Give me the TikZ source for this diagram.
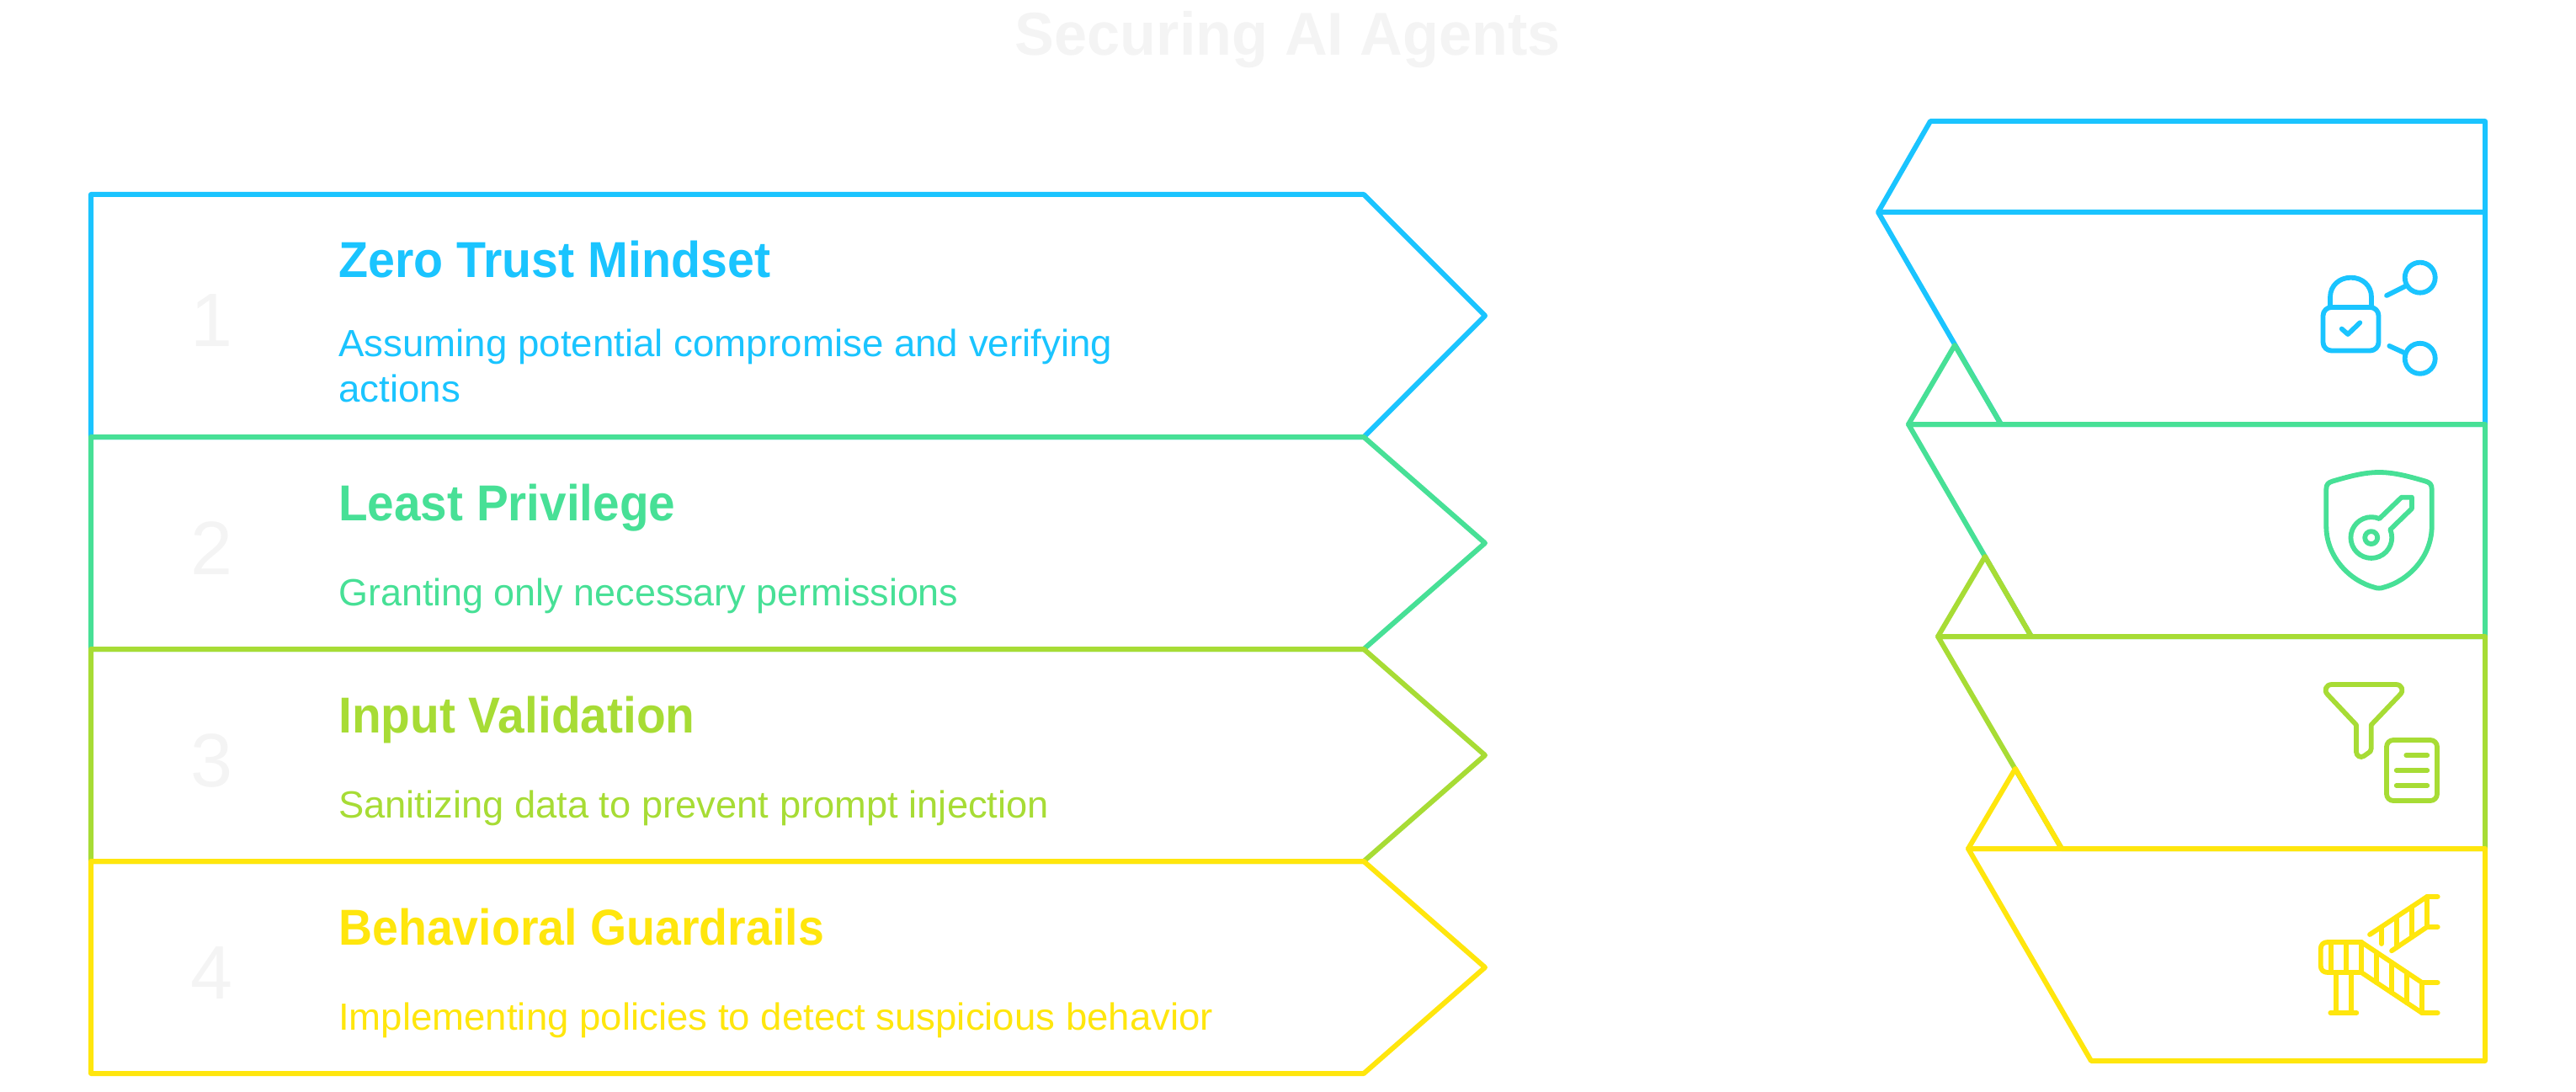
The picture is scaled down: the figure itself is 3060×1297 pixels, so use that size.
\documentclass[tikz,border=0pt]{standalone}
\usepackage{fontspec}
\setmainfont{Liberation Sans}
\definecolor{blueline}{HTML}{1AC4FF}
\definecolor{greenline}{HTML}{47E096}
\definecolor{limeline}{HTML}{A7DC35}
\definecolor{yellowline}{HTML}{FFE60D}
\definecolor{palegrey}{HTML}{F4F4F4}
\tikzset{
  band/.style={line width=6pt,line join=round},
  glyph/.style={line width=5.8pt,line join=round,line cap=round},
  headtext/.style={anchor=base,inner sep=0pt,text=palegrey,font=\fontsize{72}{72}\selectfont\bfseries\addfontfeature{FakeStretch=0.976}},
  numtext/.style={anchor=base,inner sep=0pt,text=palegrey,font=\fontsize{90}{90}\selectfont},
  titletext/.style={anchor=base west,inner sep=0pt,font=\fontsize{60}{60}\selectfont\bfseries\addfontfeature{FakeStretch=#1}},
  desctext/.style={anchor=base west,inner sep=0pt,align=left,font=\fontsize{45}{54}\selectfont\addfontfeature{FakeStretch=#1}}
}
\begin{document}
\begin{tikzpicture}[x=1pt,y=-1pt]
  \useasboundingbox (0,0) rectangle (3060,1297);
  \node[headtext] (head) at (1530,66) {Securing AI Agents};

  % left bands
  \draw[band,blueline] (108,231) -- (1620,231) -- (1764,375) -- (1620,519) -- (108,519) -- cycle;
  \draw[band,greenline] (108,519) -- (1620,519) -- (1764,645) -- (1620,771) -- (108,771) -- cycle;
  \draw[band,limeline] (108,771) -- (1620,771) -- (1764,897) -- (1620,1023) -- (108,1023) -- cycle;
  \draw[band,yellowline] (108,1023) -- (1620,1023) -- (1764,1149) -- (1620,1275) -- (108,1275) -- cycle;

  \node[numtext] (num1) at (252,411) {1};
  \node[numtext] (num2) at (252,682) {2};
  \node[numtext] (num3) at (252,934) {3};
  \node[numtext] (num4) at (252,1186) {4};

  \node[titletext=0.956,text=blueline] (title1) at (402,330) {Zero Trust Mindset};
  \node[desctext=1.015,text=blueline] (desc1) at (402,477) {Assuming potential compromise and verifying\\actions};
  \node[titletext=0.945,text=greenline] (title2) at (402,618) {Least Privilege};
  \node[desctext=0.998,text=greenline] (desc2) at (402,719) {Granting only necessary permissions};
  \node[titletext=0.948,text=limeline] (title3) at (402,870) {Input Validation};
  \node[desctext=1.007,text=limeline] (desc3) at (402,971) {Sanitizing data to prevent prompt injection};
  \node[titletext=0.925,text=yellowline] (title4) at (402,1122) {Behavioral Guardrails};
  \node[desctext=1.013,text=yellowline] (desc4) at (402,1223) {Implementing policies to detect suspicious behavior};

  % right stack
  \draw[band,blueline] (2231,252) -- (2293,144) -- (2952,144) -- (2952,504) -- (2377,504) -- (2231,252) -- (2952,252);
  \draw[band,greenline] (2267,504) -- (2322,410) -- (2377,504) -- cycle;
  \draw[band,greenline] (2267,504) -- (2952,504) -- (2952,756) -- (2413,756) -- cycle;
  \draw[band,limeline] (2302,756) -- (2358,661) -- (2413,756) -- cycle;
  \draw[band,limeline] (2302,756) -- (2952,756) -- (2952,1008) -- (2449,1008) -- cycle;
  \draw[band,yellowline] (2338,1008) -- (2394,913) -- (2449,1008) -- cycle;
  \draw[band,yellowline] (2338,1008) -- (2952,1008) -- (2952,1260) -- (2484,1260) -- cycle;

  % lock with two links
  \draw[glyph,blueline,rounded corners=10pt] (2759.5,365) rectangle (2825.5,416.5);
  \draw[glyph,blueline] (2768,365) -- (2768,353) .. controls (2768,339) and (2779,329.7) .. (2792.5,329.7)
    .. controls (2806,329.7) and (2817,339) .. (2817,353) -- (2817,365);
  \draw[glyph,blueline] (2781.7,390.6) -- (2789,397) -- (2803.3,383.3);
  \draw[glyph,blueline] (2874.7,329.7) circle (18);
  \draw[glyph,blueline] (2874.7,425.8) circle (18);
  \draw[glyph,blueline] (2835,351) -- (2857,340);
  \draw[glyph,blueline] (2838.3,410.9) -- (2856,419);

  % shield with key
  \draw[glyph,greenline] (2763.3,625) -- (2763.3,581) .. controls (2763.3,575) and (2766,573) .. (2771,571.5)
    .. controls (2790,566) and (2808,561) .. (2826,561) .. controls (2844,561) and (2862,566) .. (2881,571.5)
    .. controls (2886,573) and (2888.7,575) .. (2888.7,581) -- (2888.7,625)
    .. controls (2888.7,662) and (2860,690) .. (2832,697.5) .. controls (2828,699) and (2824,699) .. (2820,697.5)
    .. controls (2792,690) and (2763.3,662) .. (2763.3,625) -- cycle;
  \draw[glyph,greenline] (2839.3,629) arc (-23:293:24.4) -- (2852.7,590.7) -- (2865,590.7) -- (2865,604) -- cycle;
  \draw[glyph,greenline] (2816.7,638.6) circle (7.5);

  % funnel and sheet
  \draw[glyph,limeline] (2770,813) -- (2846,813) .. controls (2853,813) and (2856,820) .. (2851,825) -- (2816.7,861)
    -- (2816.7,889) .. controls (2816.7,892) and (2815,893.5) .. (2813,894.5) -- (2808,898)
    .. controls (2804,900.5) and (2799,898) .. (2799,893) -- (2799,861) -- (2765,825)
    .. controls (2760,820) and (2763,813) .. (2770,813) -- cycle;
  \draw[glyph,limeline,rounded corners=8pt] (2835,879) rectangle (2895,951);
  \draw[glyph,limeline] (2858.3,897) -- (2883.3,897);
  \draw[glyph,limeline] (2846.7,915) -- (2883.3,915);
  \draw[glyph,limeline] (2846.7,933) -- (2883.3,933);

  % stairs
  \draw[glyph,yellowline] (2805,1155) -- (2765,1155) .. controls (2760,1155) and (2756.7,1152) .. (2756.7,1147)
    -- (2756.7,1127) .. controls (2756.7,1122) and (2760,1119) .. (2765,1119) -- (2805,1119);
  \draw[glyph,yellowline] (2769,1119) -- (2769,1155);
  \draw[glyph,yellowline] (2787,1119) -- (2787,1155);
  \draw[glyph,yellowline] (2805,1119) -- (2805,1155);
  \draw[glyph,yellowline] (2775,1155) -- (2775,1203);
  \draw[glyph,yellowline] (2793,1155) -- (2793,1203);
  \draw[glyph,yellowline] (2768.3,1203) -- (2799.3,1203);
  \draw[glyph,yellowline] (2805,1119) -- (2877,1167) -- (2895.7,1167);
  \draw[glyph,yellowline] (2805,1155) -- (2877,1203) -- (2895.7,1203);
  \draw[glyph,yellowline] (2877,1167) -- (2877,1203);
  \draw[glyph,yellowline] (2823,1131) -- (2823,1167);
  \draw[glyph,yellowline] (2841,1143) -- (2841,1179);
  \draw[glyph,yellowline] (2859,1155) -- (2859,1191);
  \draw[glyph,yellowline] (2815,1110) -- (2883,1065) -- (2895.7,1065);
  \draw[glyph,yellowline] (2841,1129.3) -- (2883,1101) -- (2895.7,1101);
  \draw[glyph,yellowline] (2883,1065) -- (2883,1101);
  \draw[glyph,yellowline] (2865,1077) -- (2865,1113);
  \draw[glyph,yellowline] (2847,1089) -- (2847,1125);
  \draw[glyph,yellowline] (2829,1101) -- (2829,1121);
\end{tikzpicture}
\end{document}
